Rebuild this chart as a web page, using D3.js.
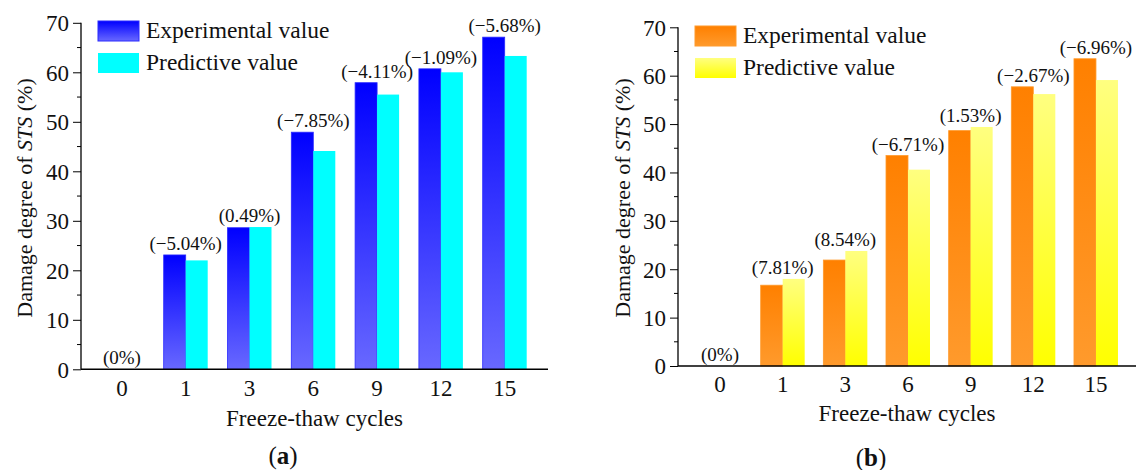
<!DOCTYPE html>
<html>
<head>
<meta charset="utf-8">
<script src="https://cdn.jsdelivr.net/npm/d3@7"></script>
<style>
  body { margin: 0; background: #fff; }
  svg text { font-family: "Liberation Serif", "Times New Roman", serif; fill: #111; }
</style>
</head>
<body>
<svg id="chart" width="1136" height="470"></svg>
<script>
// data
var cycles = ["0", "1", "3", "6", "9", "12", "15"];
var seriesNames = ["Experimental value", "Predictive value"];

var expA = [0, 23.1, 28.6, 47.9, 57.9, 60.7, 67.1];
var predA = [0, 22.0, 28.74, 44.1, 55.5, 60.0, 63.3];
var errA = ["(0%)", "(\u22125.04%)", "(0.49%)", "(\u22127.85%)", "(\u22124.11%)", "(\u22121.09%)", "(\u22125.68%)"];

var expB = [0, 16.7, 21.9, 43.5, 48.65, 57.7, 63.5];
var predB = [0, 18.0, 23.77, 40.58, 49.4, 56.2, 59.1];
var errB = ["(0%)", "(7.81%)", "(8.54%)", "(\u22126.71%)", "(1.53%)", "(\u22122.67%)", "(\u22126.96%)"];

var yTicks = [0, 10, 20, 30, 40, 50, 60, 70];

var svg = d3.select("#chart");
var defs = svg.append("defs");

function gradient(id, top, bottom) {
  var g = defs.append("linearGradient").attr("id", id)
    .attr("x1", 0).attr("y1", 0).attr("x2", 0).attr("y2", 1);
  g.append("stop").attr("offset", "0%").attr("stop-color", top);
  g.append("stop").attr("offset", "100%").attr("stop-color", bottom);
}
gradient("blueG", "#0000ff", "#6868ff");
gradient("cyanG", "#00ffff", "#00ffff");
gradient("orangeG", "#ff8000", "#ff9a2c");
gradient("yellowG", "#ffff80", "#ffff00");

function panel(cfg) {
  var g = svg.append("g");

  var x = d3.scaleBand().domain(cycles).range(cfg.band).padding(0);
  var bw = x.bandwidth();
  var x1 = d3.scaleBand().domain(["exp", "pred"]).range([bw / 2 - 22, bw / 2 + 22]).padding(0);
  var y = d3.scaleLinear().domain([0, 70]).range(cfg.yRange);

  var rows = cycles.map(function(c, i) {
    return { c: c, exp: cfg.exp[i], pred: cfg.pred[i], err: cfg.err[i] };
  });

  // bars
  var grp = g.selectAll(".grp").data(rows).enter().append("g")
    .attr("transform", function(d) { return "translate(" + x(d.c) + ",0)"; });

  grp.filter(function(d) { return d.exp > 0; }).append("rect")
    .attr("x", x1("exp")).attr("width", x1.bandwidth())
    .attr("y", function(d) { return y(d.exp); })
    .attr("height", function(d) { return y(0) - y(d.exp); })
    .attr("fill", "url(#" + cfg.fills[0] + ")")
    .attr("stroke", cfg.edge[0]).attr("stroke-width", 0.8);

  grp.filter(function(d) { return d.pred > 0; }).append("rect")
    .attr("x", x1("pred")).attr("width", x1.bandwidth())
    .attr("y", function(d) { return y(d.pred); })
    .attr("height", function(d) { return y(0) - y(d.pred); })
    .attr("fill", "url(#" + cfg.fills[1] + ")");

  grp.append("text")
    .attr("x", bw / 2)
    .attr("y", function(d) { return y(Math.max(d.exp, d.pred)) - 5; })
    .attr("text-anchor", "middle")
    .style("font-size", "19px")
    .text(function(d) { return d.err; });

  // y axis with minor ticks
  var yAxis = g.append("g").attr("transform", "translate(" + cfg.axisX + ",0)")
    .call(d3.axisLeft(y).tickValues(yTicks).tickSize(8).tickPadding(4).tickFormat(d3.format("d")));
  yAxis.select(".domain").remove();
  yAxis.selectAll("text").style("font-size", "23px").attr("dy", "0.34em");
  yAxis.append("line").attr("x1", 0).attr("x2", 0)
    .attr("y1", y(0)).attr("y2", y(70)).attr("stroke", "#000").attr("stroke-width", 1.3);
  yAxis.selectAll(".minor").data(d3.range(5, 70, 10)).enter().append("line")
    .attr("x1", -4).attr("x2", 0)
    .attr("y1", function(d) { return y(d); }).attr("y2", function(d) { return y(d); })
    .attr("stroke", "#000");

  // x axis
  var xAxis = g.append("g").attr("transform", "translate(0," + y(0) + ")")
    .call(d3.axisBottom(x).tickSize(0).tickPadding(10));
  xAxis.select(".domain").remove();
  xAxis.selectAll("text").style("font-size", "23px");
  xAxis.append("line").attr("x1", cfg.axisX).attr("x2", cfg.xEnd)
    .attr("stroke", "#000").attr("stroke-width", 1.5);

  // titles
  var yt = g.append("text")
    .attr("transform", "translate(" + cfg.yTitleX + "," + cfg.yTitleY + ") rotate(-90)")
    .attr("text-anchor", "middle").style("font-size", "22px");
  yt.append("tspan").text("Damage degree of ");
  yt.append("tspan").style("font-style", "italic").text("STS");
  yt.append("tspan").text(" (%)");

  g.append("text").attr("x", (cfg.axisX + cfg.xEnd) / 2).attr("y", cfg.xTitleY)
    .attr("text-anchor", "middle").style("font-size", "23px").text("Freeze-thaw cycles");

  var cap = g.append("text").attr("x", cfg.capX).attr("y", cfg.capY)
    .attr("text-anchor", "middle").style("font-size", "25px");
  cap.append("tspan").text("(");
  cap.append("tspan").style("font-weight", "bold").text(cfg.cap);
  cap.append("tspan").text(")");

  // legend
  var leg = g.selectAll(".leg").data(seriesNames).enter().append("g")
    .attr("transform", function(d, i) { return "translate(" + cfg.legX + "," + (cfg.legY + i * 32) + ")"; });
  leg.append("rect").attr("width", 41).attr("height", 20)
    .attr("fill", function(d, i) { return "url(#" + cfg.fills[i] + ")"; })
    .attr("stroke", function(d, i) { return i === 0 ? cfg.edge[0] : "none"; });
  leg.append("text").attr("x", 48).attr("y", 17).style("font-size", "23.5px")
    .text(function(d) { return d; });
}

panel({
  exp: expA, pred: predA, err: errA,
  fills: ["blueG", "cyanG"], edge: ["#2a2aff"],
  band: [90, 536.6], yRange: [369.3, 22.8],
  axisX: 81, xEnd: 548,
  yTitleX: 32, yTitleY: 198,
  xTitleY: 426, capX: 283, capY: 464, cap: "a",
  legX: 98, legY: 21
});

panel({
  exp: expB, pred: predB, err: errB,
  fills: ["orangeG", "yellowG"], edge: ["#ff9a2c"],
  band: [688.7, 1127.3], yRange: [366, 27.3],
  axisX: 678, xEnd: 1136,
  yTitleX: 630, yTitleY: 198,
  xTitleY: 421, capX: 871, capY: 466, cap: "b",
  legX: 695, legY: 26
});
</script>
</body>
</html>
